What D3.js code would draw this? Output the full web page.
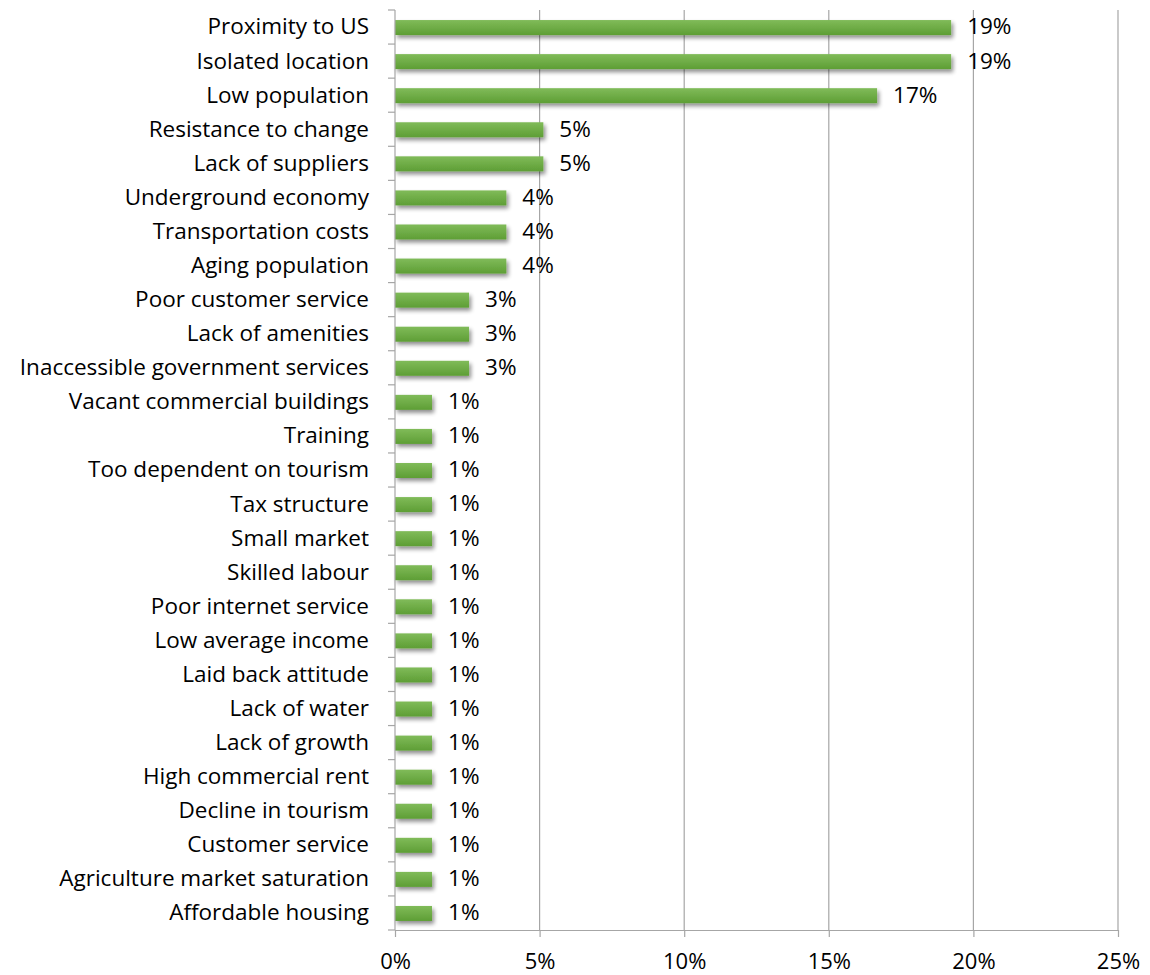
<!DOCTYPE html>
<html>
<head>
<meta charset="utf-8">
<script src="https://cdn.jsdelivr.net/npm/d3@7"></script>
<style>
  html, body { margin: 0; padding: 0; background: #fff; }
  svg { display: block; }
  text { font-family: "Open Sans", Lato, sans-serif; fill: #000; }
</style>
</head>
<body>
<svg id="chart" width="1150" height="975"></svg>
<script>
const categories = [
  "Proximity to US", "Isolated location", "Low population", "Resistance to change",
  "Lack of suppliers", "Underground economy", "Transportation costs", "Aging population",
  "Poor customer service", "Lack of amenities", "Inaccessible government services",
  "Vacant commercial buildings", "Training", "Too dependent on tourism", "Tax structure",
  "Small market", "Skilled labour", "Poor internet service", "Low average income",
  "Laid back attitude", "Lack of water", "Lack of growth", "High commercial rent",
  "Decline in tourism", "Customer service", "Agriculture market saturation", "Affordable housing"
];
const values = [
  19.23, 19.23, 16.67, 5.13, 5.13, 3.85, 3.85, 3.85, 2.56, 2.56, 2.56,
  1.28, 1.28, 1.28, 1.28, 1.28, 1.28, 1.28, 1.28, 1.28, 1.28, 1.28, 1.28, 1.28, 1.28, 1.28, 1.28
];
const valueLabels = [
  "19%", "19%", "17%", "5%", "5%", "4%", "4%", "4%", "3%", "3%", "3%",
  "1%", "1%", "1%", "1%", "1%", "1%", "1%", "1%", "1%", "1%", "1%", "1%", "1%", "1%", "1%", "1%"
];
const xTicks = [0, 5, 10, 15, 20, 25];
const xTickLabels = ["0%", "5%", "10%", "15%", "20%", "25%"];

(function () {
const data = categories.map((c, i) => ({ cat: c, v: values[i], lab: valueLabels[i] }));

const svg = d3.select("#chart");
const mLeft = 395, mRight = 1118, mTop = 10, mBottom = 930;
const FONT = "'Open Sans', Lato, sans-serif";
const FS = 22.5;

const x = d3.scaleLinear().domain([0, 25]).range([mLeft, mRight]);
const y = d3.scaleBand().domain(categories).range([mTop, mBottom]).paddingInner(0).paddingOuter(0);

const defs = svg.append("defs");
const grad = defs.append("linearGradient").attr("id", "barGrad")
  .attr("x1", 0).attr("y1", 0).attr("x2", 0).attr("y2", 1);
grad.append("stop").attr("offset", "0%").attr("stop-color", "#80bb59");
grad.append("stop").attr("offset", "100%").attr("stop-color", "#5e9e35");

const filt = defs.append("filter").attr("id", "shadow")
  .attr("x", "-10%").attr("y", "-50%").attr("width", "130%").attr("height", "250%");
filt.append("feGaussianBlur").attr("in", "SourceAlpha").attr("stdDeviation", 2.2).attr("result", "blur");
filt.append("feOffset").attr("in", "blur").attr("dx", 2).attr("dy", 3).attr("result", "off");
filt.append("feComponentTransfer").attr("in", "off").attr("result", "offA")
  .append("feFuncA").attr("type", "linear").attr("slope", 0.45);
const merge = filt.append("feMerge");
merge.append("feMergeNode").attr("in", "offA");
merge.append("feMergeNode").attr("in", "SourceGraphic");

// gridlines
svg.append("g").selectAll("line").data(xTicks.slice(1)).join("line")
  .attr("x1", d => x(d)).attr("x2", d => x(d))
  .attr("y1", mTop).attr("y2", mBottom)
  .attr("stroke", "#a6a6a6").attr("stroke-width", 1.2);

// bars
const barH = 15;
svg.append("g").selectAll("rect").data(data).join("rect")
  .attr("x", x(0))
  .attr("y", d => y(d.cat) + y.bandwidth() / 2 - barH / 2 + 0.5)
  .attr("width", d => x(d.v) - x(0))
  .attr("height", barH)
  .attr("fill", "url(#barGrad)")
  .attr("filter", "url(#shadow)");

// value labels
svg.append("g").selectAll("text").data(data).join("text")
  .attr("x", d => x(d.v) + 16)
  .attr("y", d => y(d.cat) + y.bandwidth() / 2)
  .attr("dy", "0.33em")
  .attr("font-size", FS)
  .attr("font-family", FONT)
  .text(d => d.lab);

// y axis
const yAxis = d3.axisLeft(y).tickSize(0).tickPadding(26);
const gy = svg.append("g").attr("transform", `translate(${mLeft},0)`).call(yAxis);
gy.select(".domain").remove();
gy.selectAll("text").attr("font-size", FS).attr("font-family", FONT).attr("fill", "#000")
  .attr("dy", "0.33em");
// y boundary ticks
const bounds = d3.range(categories.length + 1).map(i => mTop + i * y.step());
svg.append("g").selectAll("line").data(bounds).join("line")
  .attr("x1", mLeft - 7).attr("x2", mLeft)
  .attr("y1", d => d).attr("y2", d => d)
  .attr("stroke", "#a6a6a6").attr("stroke-width", 1.2);
svg.append("line").attr("x1", mLeft).attr("x2", mLeft).attr("y1", mTop).attr("y2", mBottom)
  .attr("stroke", "#a6a6a6").attr("stroke-width", 1.2);

// x axis
const xAxis = d3.axisBottom(x).tickValues(xTicks).tickFormat((d, i) => xTickLabels[i]).tickSize(7).tickSizeOuter(0).tickPadding(16);
const gx = svg.append("g").attr("transform", `translate(0,${mBottom})`).call(xAxis);
gx.select(".domain").attr("stroke", "#a6a6a6").attr("stroke-width", 1.2);
gx.selectAll(".tick line").attr("stroke", "#a6a6a6").attr("stroke-width", 1.2);
gx.selectAll("text").attr("font-size", 22).attr("font-family", FONT).attr("fill", "#000");
})();
</script>
</body>
</html>
